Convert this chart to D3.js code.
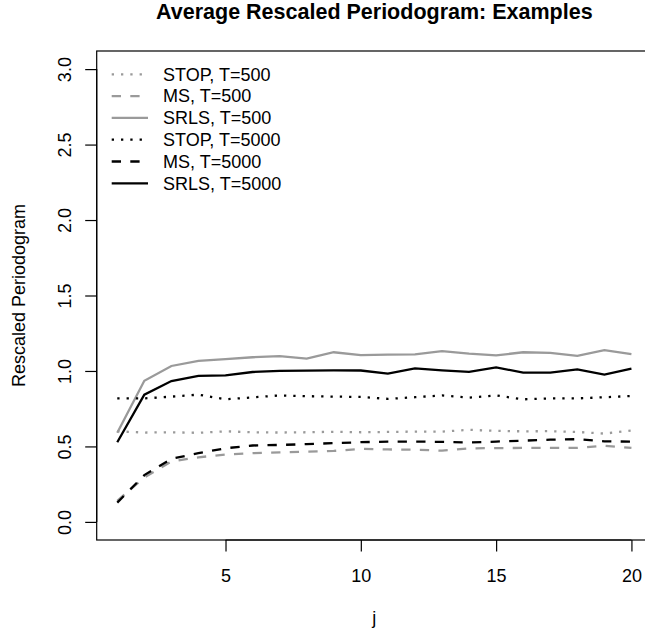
<!DOCTYPE html>
<html lang="en">
<head>
<meta charset="UTF-8">
<title>Average Rescaled Periodogram</title>
<script src="https://d3js.org/d3.v7.min.js"></script>
<style>
    body { margin: 0; background: #fff; }
    text { font-family: "Liberation Sans", Arial, sans-serif; fill: #000; }
</style>
</head>
<body>
<script>
    // j = 1..20
    var js = d3.range(1, 21);
    var stop500 = [0.600, 0.592, 0.594, 0.590, 0.600, 0.594, 0.592, 0.594, 0.597, 0.594,
                   0.596, 0.598, 0.598, 0.610, 0.603, 0.600, 0.601, 0.596, 0.585, 0.605];
    var ms500 = [0.140, 0.295, 0.400, 0.428, 0.446, 0.455, 0.460, 0.465, 0.470, 0.484,
                 0.480, 0.478, 0.472, 0.487, 0.489, 0.490, 0.491, 0.490, 0.505, 0.490];
    var srls500 = [0.590, 0.935, 1.033, 1.067, 1.078, 1.091, 1.098, 1.082, 1.124, 1.105,
                   1.108, 1.110, 1.132, 1.115, 1.103, 1.124, 1.120, 1.100, 1.138, 1.112];
    var stop5000 = [0.818, 0.818, 0.830, 0.843, 0.812, 0.825, 0.838, 0.833, 0.830, 0.828,
                    0.815, 0.826, 0.838, 0.823, 0.838, 0.812, 0.818, 0.818, 0.826, 0.834];
    var ms5000 = [0.128, 0.310, 0.418, 0.455, 0.488, 0.506, 0.510, 0.515, 0.522, 0.528,
                  0.532, 0.532, 0.530, 0.526, 0.532, 0.538, 0.545, 0.548, 0.534, 0.532];
    var srls5000 = [0.528, 0.843, 0.933, 0.967, 0.971, 0.993, 1.000, 1.002, 1.004, 1.003,
                    0.983, 1.017, 1.004, 0.994, 1.024, 0.989, 0.989, 1.010, 0.976, 1.015];

    var seriesNames = ["STOP, T=500", "MS, T=500", "SRLS, T=500",
                       "STOP, T=5000", "MS, T=5000", "SRLS, T=5000"];
    var seriesValues = [stop500, ms500, srls500, stop5000, ms5000, srls5000];
    var xTicks = [5, 10, 15, 20];
    var yTicks = [0, 0.5, 1, 1.5, 2, 2.5, 3];

    var width = 645, height = 637;
    var mLeft = 96.7, mRight = 652, mTop = 51, mBottom = 540;
    var gray = "#9a9a9a";
    var dotted = "2.3,7", dashed = "9.3,9.3";
    var styles = [
        {color: gray, dash: dotted},
        {color: gray, dash: dashed},
        {color: gray, dash: null},
        {color: "#000", dash: dotted},
        {color: "#000", dash: dashed},
        {color: "#000", dash: null}
    ];

    // R style: 4% padding on each side
    var x = d3.scaleLinear().domain([0.24, 20.76]).range([mLeft, mRight]);
    var y = d3.scaleLinear().domain([-0.12, 3.12]).range([mBottom, mTop]);

    var svg = d3.select("body").append("svg")
        .attr("width", width)
        .attr("height", height);

    // series
    var line = d3.line()
        .x(function (d, i) { return x(js[i]); })
        .y(function (d) { return y(d); });

    svg.selectAll(".series")
        .data(seriesValues)
        .enter()
        .append("path")
        .attr("class", "series")
        .attr("d", line)
        .attr("fill", "none")
        .attr("stroke", function (d, i) { return styles[i].color; })
        .attr("stroke-width", 2.3)
        .attr("stroke-dasharray", function (d, i) { return styles[i].dash; });

    // box
    svg.append("rect")
        .attr("x", mLeft).attr("y", mTop)
        .attr("width", mRight - mLeft).attr("height", mBottom - mTop)
        .attr("fill", "none").attr("stroke", "#000").attr("stroke-width", 1.2);

    // x axis
    var xAxis = svg.append("g")
        .attr("transform", "translate(0," + mBottom + ")")
        .call(d3.axisBottom(x).tickValues(xTicks).tickSize(11.5).tickSizeOuter(0));
    xAxis.select(".domain").attr("d", "M" + x(5) + ",0H" + x(20));
    xAxis.selectAll("text").attr("font-size", "18px").attr("dy", 0).attr("y", 42)
        .style("font-family", "'Liberation Sans', Arial, sans-serif");

    // y axis
    var yAxis = svg.append("g")
        .attr("transform", "translate(" + mLeft + ",0)")
        .call(d3.axisLeft(y).tickValues(yTicks).tickSize(11.5).tickFormat(d3.format(".1f")).tickSizeOuter(0));
    yAxis.select(".domain").attr("d", "M0," + y(0) + "V" + y(3));
    yAxis.selectAll(".tick text")
        .attr("x", null).attr("dy", null)
        .attr("transform", "translate(-26,0) rotate(-90)")
        .attr("text-anchor", "middle")
        .attr("font-size", "18px")
        .style("font-family", "'Liberation Sans', Arial, sans-serif");
    svg.selectAll(".domain, .tick line").attr("stroke", "#000").attr("stroke-width", 1.2);

    // titles
    svg.append("text")
        .attr("x", (mLeft + mRight) / 2).attr("y", 18.5)
        .attr("text-anchor", "middle")
        .attr("font-size", "21.5px").attr("font-weight", "bold")
        .text("Average Rescaled Periodogram: Examples");
    svg.append("text")
        .attr("x", (mLeft + mRight) / 2).attr("y", 624)
        .attr("text-anchor", "middle")
        .attr("font-size", "18px")
        .text("j");
    svg.append("text")
        .attr("transform", "translate(25," + ((mTop + mBottom) / 2) + ") rotate(-90)")
        .attr("text-anchor", "middle")
        .attr("font-size", "18px")
        .text("Rescaled Periodogram");

    // legend
    var legend = svg.selectAll(".legend")
        .data(seriesNames)
        .enter()
        .append("g")
        .attr("class", "legend")
        .attr("transform", function (d, i) { return "translate(0," + (74.3 + i * 21.8) + ")"; });
    legend.append("line")
        .attr("x1", 111.7).attr("x2", 148)
        .attr("stroke", function (d, i) { return styles[i].color; })
        .attr("stroke-width", 2.3)
        .attr("stroke-dasharray", function (d, i) { return styles[i].dash; });
    legend.append("text")
        .attr("x", 163).attr("dy", "0.35em")
        .attr("font-size", "18px")
        .text(function (d) { return d; });
</script>
</body>
</html>
